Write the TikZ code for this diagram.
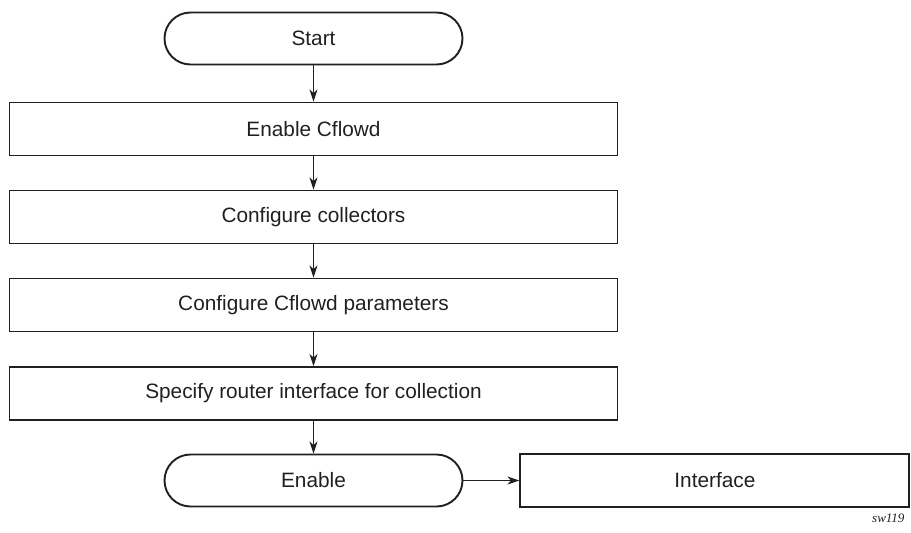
\documentclass[tikz,border=0pt]{standalone}
\usepackage{fontspec}
\setmainfont{Liberation Sans}
\newfontfamily\tagfont{Liberation Serif}
\usetikzlibrary{arrows.meta}
\usetikzlibrary{positioning}

\definecolor{ink}{HTML}{231F20}

\tikzset{
  stepbox/.style={draw=ink, line width=1.9pt, minimum width=608pt, minimum height=53pt, inner sep=0pt},
  terminal/.style={draw=ink, line width=1.9pt, rounded corners=26pt, minimum width=298pt, minimum height=52pt, inner sep=0pt},
  flow/.style={draw=ink, line width=1.2pt, -{Stealth[length=12pt, width=8pt, inset=3.5pt]}},
}

\begin{document}
\begin{tikzpicture}[x=1pt, y=-1pt, font=\fontsize{20.8}{24}\selectfont, text=ink]
            \useasboundingbox (0,0) rectangle (911,533);
            \node[terminal] (start) at (313.5,38.5) {Start};
            \node[stepbox] (cflowd) at (313.5,129) {Enable Cflowd};
            \node[stepbox] (collectors) at (313.5,217) {Configure collectors};
            \node[stepbox] (params) at (313.5,305) {Configure Cflowd parameters};
            \node[stepbox] (router) at (313.5,393.5) {Specify router interface for collection};
            \node[terminal] (enable) at (313.5,480.5) {Enable};
            \node[stepbox, minimum width=389pt, right=56pt of enable] (iface) {Interface};
            \node[font=\fontsize{13}{15}\tagfont\itshape, anchor=west, inner sep=0pt] (tag) at (872,518) {sw119};
            \draw[flow] (start) -- (cflowd);
            \draw[flow] (cflowd) -- (collectors);
            \draw[flow] (collectors) -- (params);
            \draw[flow] (params) -- (router);
            \draw[flow] (router) -- (enable);
            \draw[flow] (enable) -- (iface);
        \end{tikzpicture}
\end{document}
